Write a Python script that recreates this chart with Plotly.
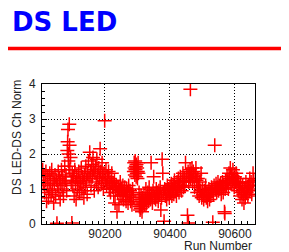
import plotly.graph_objects as go

title_text = "DS LED"
y_title = "DS LED-DS Ch Norm"
x_title = "Run Number"
x_tick_vals = [90200, 90400, 90600]
y_tick_vals = [0, 1, 2, 3, 4]

run_number = [
    90008, 90010, 90012, 90014, 90016, 90018, 90020, 90022, 90024, 90026,
    90028, 90030, 90032, 90034, 90036, 90038, 90040, 90042, 90044, 90046,
    90048, 90050, 90052, 90054, 90056, 90058, 90060, 90062, 90064, 90066,
    90068, 90070, 90072, 90074, 90076, 90078, 90080, 90082, 90084, 90085,
    90086, 90087, 90088, 90089, 90090, 90091, 90092, 90094, 90096, 90098,
    90099,
    90101, 90103, 90105, 90107, 90109, 90111, 90113, 90115, 90117, 90119,
    90121, 90123, 90125, 90127, 90129, 90131, 90133, 90135, 90137, 90139,
    90141, 90143, 90145, 90147, 90149, 90151, 90153, 90155, 90157, 90159,
    90161, 90163, 90165, 90167, 90169, 90171, 90173, 90175, 90177, 90179,
    90181, 90183, 90185, 90187, 90189, 90191, 90193, 90195, 90197, 90199,
    90201, 90203, 90205, 90207, 90209, 90211, 90213, 90215, 90217, 90219,
    90221, 90223, 90225, 90227, 90229, 90231, 90233, 90235, 90237, 90239,
    90241, 90243, 90245, 90247, 90249, 90251, 90253, 90255, 90257, 90259,
    90261, 90263, 90265, 90267, 90269, 90271, 90273, 90275, 90277, 90279,
    90281, 90283, 90285, 90287,
    90289, 90290, 90291, 90292, 90293, 90294, 90295, 90296, 90297, 90298,
    90299, 90300, 90301, 90302, 90303, 90305, 90306, 90307, 90308, 90309,
    90310, 90311, 90312, 90313, 90314, 90315, 90316,
    90318, 90320, 90322, 90324, 90326, 90328, 90330, 90332, 90334, 90336,
    90338, 90340, 90342, 90344, 90346, 90348, 90350, 90352, 90354, 90356,
    90358, 90360, 90362, 90364, 90366, 90368, 90370, 90372, 90374, 90376,
    90378, 90380, 90382, 90384, 90386, 90388, 90390, 90392, 90394, 90396,
    90398,
    90400, 90402, 90404, 90406, 90408, 90410, 90412, 90414, 90416, 90418,
    90420, 90422, 90424, 90426, 90428, 90430, 90432, 90434, 90436, 90438,
    90440, 90442, 90444, 90446, 90448, 90450, 90452, 90454, 90456, 90457,
    90458, 90460, 90462, 90463, 90464, 90466, 90468, 90470, 90472, 90474,
    90476, 90478, 90480, 90482, 90484, 90486, 90488, 90490, 90492, 90494,
    90496, 90498,
    90500, 90502, 90504, 90506, 90508, 90510, 90512, 90514, 90516, 90518,
    90520, 90522, 90524, 90526, 90528, 90530, 90532, 90534, 90536, 90538,
    90540, 90542, 90544, 90546, 90548, 90550, 90552, 90554, 90556, 90558,
    90560, 90562, 90564, 90566, 90568, 90569, 90570, 90572, 90574, 90576,
    90578, 90580, 90582, 90584, 90586, 90588, 90590, 90592, 90594, 90596,
    90598,
    90600, 90602, 90604, 90606, 90608, 90610, 90612, 90614, 90616, 90618,
    90620, 90622, 90624, 90626, 90628, 90630, 90632, 90634, 90636, 90638,
    90640, 90642, 90644, 90646, 90648, 90650, 90652, 90654, 90656, 90658,
]

ds_led_norm = [
    1.55, 1.15, 1.40, 0.90, 1.25, 1.50, 0.65, 1.10, 1.35, 0.75,
    1.00, 1.45, 1.20, 0.85, 1.55, 0.95, 1.30, 0.60, 1.15, 1.40,
    0.80, 1.25, 0.02, 1.10, 1.50, 0.90, 1.30, 0.70, 1.20, 1.55,
    1.00, 1.35, 0.80, 1.15, 1.65, 1.25, 1.40, 0.95, 2.10, 2.35,
    2.70, 1.80, 2.00, 1.65, 2.85, 2.25, 1.55, 1.90, 1.20, 0.03,
    1.45,
    1.10, 1.35, 0.80, 1.55, 1.20, 0.70, 1.35, 1.00, 1.25, 1.50,
    0.90, 1.30, 1.15, 1.60, 0.95, 1.35, 1.20, 0.75, 1.40, 1.05,
    1.65, 1.25, 0.85, 1.45, 1.80, 1.30, 2.05, 1.50, 1.10, 1.70,
    1.35, 1.90, 1.55, 0.95, 1.45, 1.65, 1.20, 1.85, 1.40, 1.05,
    1.60, 1.30, 2.15, 1.50, 1.15, 1.75, 1.35, 1.00, 1.45, 2.95,
    1.25, 1.55, 1.10, 1.35, 1.20, 1.50, 1.00, 1.30, 0.90, 1.20,
    1.45, 1.05, 1.15, 0.80, 1.25, 0.60, 1.00, 1.10, 0.35, 0.90,
    1.05, 0.55, 0.95, 1.20, 0.80, 1.00, 0.85, 1.10, 0.70, 0.95,
    1.05, 0.80, 0.65, 1.00, 0.90, 0.60, 1.10, 0.80, 0.95, 0.65,
    0.85, 0.55, 1.00, 0.75,
    1.50, 1.75, 1.60, 1.40, 1.80, 1.55, 1.65, 1.35, 1.70, 1.45,
    1.60, 1.30, 1.50, 1.75, 1.45, 0.90, 0.50, 0.70, 0.40, 0.60,
    0.45, 0.80, 0.55, 0.65, 0.35, 0.75, 0.50,
    0.60, 0.85, 0.55, 0.70, 1.00, 0.60, 0.75, 0.90, 0.65, 1.05,
    0.80, 0.70, 1.75, 0.85, 0.60, 0.95, 1.35, 0.75, 0.85, 0.70,
    1.00, 0.80, 0.90, 0.65, 0.95, 0.85, 1.05, 0.40, 0.75, 1.85,
    1.45, 0.90, 0.08, 1.00, 0.80, 0.95, 0.70, 1.10, 0.85, 1.00,
    0.75,
    1.05, 0.90, 1.15, 0.80, 1.00, 1.10, 0.85, 1.25, 0.95, 1.05,
    0.80, 1.20, 1.00, 1.30, 0.90, 1.10, 1.35, 1.05, 0.95, 1.20,
    1.45, 1.05, 1.30, 1.10, 1.75, 1.25, 1.40, 0.25, 1.50, 0.03,
    1.20, 1.35, 1.55, 3.85, 1.30, 1.45, 1.60, 1.20, 1.50, 1.35,
    1.05, 1.40, 1.60, 1.25, 0.90, 1.30, 1.10, 0.80, 1.20, 0.95,
    1.45, 0.75,
    1.00, 0.85, 0.70, 0.95, 0.80, 1.10, 0.75, 0.90, 0.65, 0.85,
    1.00, 0.70, 0.90, 0.80, 1.05, 0.95, 0.05, 0.85, 1.10, 2.25,
    1.00, 1.15, 0.90, 1.05, 1.20, 0.95, 1.10, 1.00, 1.15, 0.85,
    1.05, 1.20, 0.90, 1.10, 0.35, 0.30, 1.00, 1.25, 1.10, 1.35,
    1.20, 1.00, 1.45, 1.30, 1.60, 1.15, 1.40, 1.25, 1.55, 1.30,
    1.05,
    1.35, 1.20, 1.45, 1.10, 1.30, 0.95, 1.20, 1.05, 0.80, 1.15,
    0.90, 0.70, 1.10, 0.85, 0.60, 1.00, 0.75, 1.20, 0.90, 1.05,
    0.80, 1.10, 0.95, 1.30, 1.00, 1.20, 0.85, 1.10, 1.45, 1.25,
]

# The page body has an 8px default margin: lay the figure out in page pixels
# and shift by that offset.
OFF = 8
W, H = 289 - OFF, 252 - OFF
L, R, T, B = 42 - OFF, 289 - 255, 84 - OFF, 252 - 224
pw, ph = W - L - R, H - T - B


def px_x(p):
    return (p - OFF - L) / pw


def px_y(p):
    return (H - B - (p - OFF)) / ph


fig = go.Figure()
fig.add_trace(go.Scatter(
    x=run_number, y=ds_led_norm, mode="markers",
    marker=dict(symbol="cross-thin", size=10, color="red",
                line=dict(color="red", width=1.5)),
    showlegend=False, cliponaxis=True,
))

tick_font = dict(family="Liberation Sans, Arial, sans-serif", size=12, color="#222")
axis_common = dict(
    showline=True, linecolor="black", linewidth=1, mirror=True,
    showgrid=True, gridcolor="black", griddash="1px,2px", gridwidth=1,
    ticks="inside", ticklen=5, tickcolor="black",
    tickfont=tick_font, zeroline=False,
)

fig.update_xaxes(range=[90006, 90662], tickvals=x_tick_vals,
                 ticktext=[str(v) for v in x_tick_vals], ticklabelstandoff=-1,
                 minor=dict(ticks="inside", ticklen=3, dtick=20, tick0=90000,
                            tickcolor="black", showgrid=False),
                 **axis_common)
fig.update_yaxes(range=[0, 4], tickvals=y_tick_vals, ticklabelstandoff=3,
                 minor=dict(ticks="inside", ticklen=3, dtick=0.2, tick0=0,
                            tickcolor="black", showgrid=False),
                 **axis_common)

fig.update_layout(
    width=W, height=H,
    margin=dict(l=L, r=R, t=T, b=B, pad=0),
    paper_bgcolor="white", plot_bgcolor="white",
    annotations=[
        dict(text=title_text, xref="paper", yref="paper",
             x=px_x(10), y=px_y(22), xanchor="left", yanchor="middle", showarrow=False,
             font=dict(family="DejaVu Sans, sans-serif", size=26, color="#0000ff", weight="bold")),
        dict(text=y_title, xref="paper", yref="paper", textangle=-90,
             x=px_x(17), y=px_y(138), xanchor="center", yanchor="middle", showarrow=False,
             font=tick_font),
        dict(text=x_title, xref="paper", yref="paper",
             x=px_x(254), y=px_y(245.5), xanchor="right", yanchor="middle", showarrow=False,
             font=tick_font),
    ],
    shapes=[
        dict(type="line", xref="paper", yref="paper",
             x0=px_x(OFF), x1=px_x(289), y0=px_y(48.5), y1=px_y(48.5),
             line=dict(color="red", width=3.5)),
        dict(type="line", xref="paper", yref="paper",
             x0=px_x(287.5), x1=px_x(287.5), y0=px_y(48.5), y1=px_y(252),
             line=dict(color="rgb(255,120,120)", width=1)),
    ],
)

fig.write_html("out.html")
